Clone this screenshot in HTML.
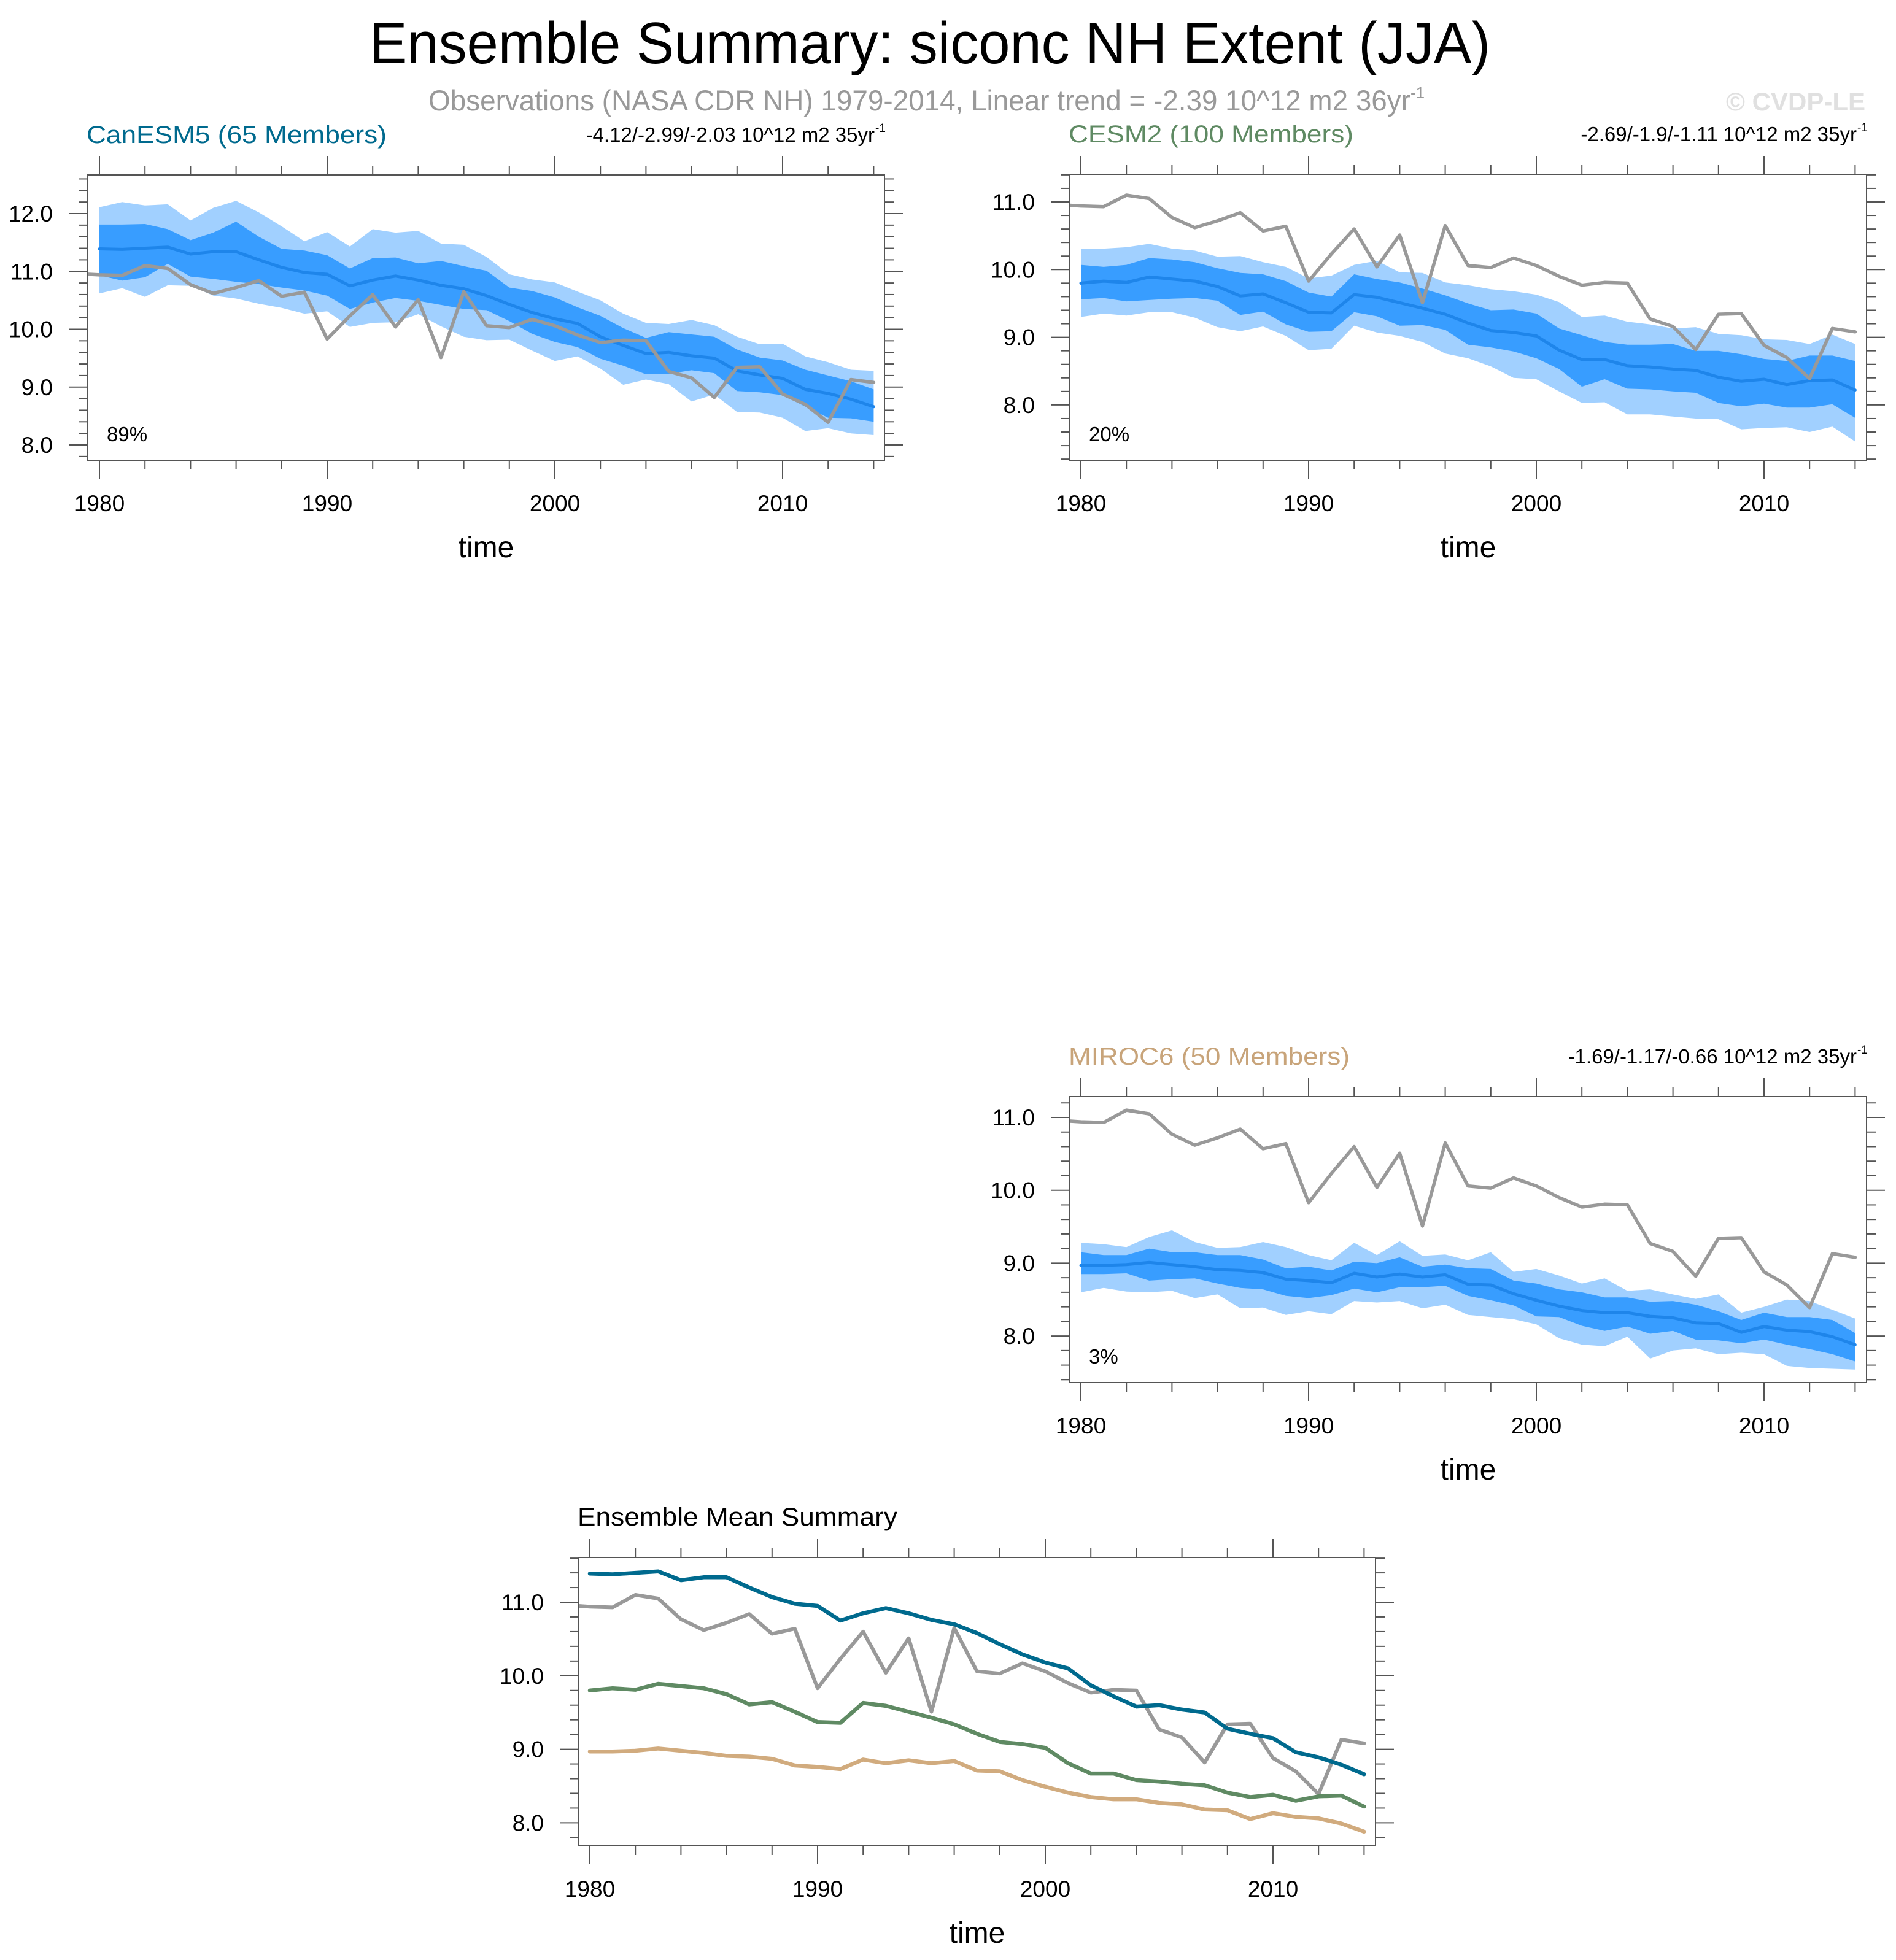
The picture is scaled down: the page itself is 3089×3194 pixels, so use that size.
<!DOCTYPE html>
<html><head><meta charset="utf-8"><title>Ensemble Summary: siconc NH Extent (JJA)</title>
<style>html,body{margin:0;padding:0;background:#fff}svg{display:block;font-family:"Liberation Sans",Arial,sans-serif}</style>
</head><body>
<svg id="fig" width="3089" height="3194" viewBox="0 0 3089 3194" xmlns="http://www.w3.org/2000/svg">
<rect x="0" y="0" width="3089" height="3194" fill="#fff"/>
<text x="602" y="103" font-size="96" textLength="1826" lengthAdjust="spacingAndGlyphs" fill="#000">Ensemble Summary: siconc NH Extent (JJA)</text>
<text x="698" y="180" font-size="47" fill="#999"><tspan textLength="1600" lengthAdjust="spacingAndGlyphs">Observations (NASA CDR NH) 1979-2014, Linear trend = -2.39 10^12 m2 36yr</tspan><tspan dy="-20" font-size="26">-1</tspan></text>
<text x="3039" y="180" text-anchor="end" font-size="42" font-weight="bold" fill="#e0e0e0">© CVDP-LE</text>
</svg>
<script>
// ---------- data ----------
const years = [1980,1981,1982,1983,1984,1985,1986,1987,1988,1989,1990,1991,1992,1993,1994,1995,1996,1997,1998,1999,2000,2001,2002,2003,2004,2005,2006,2007,2008,2009,2010,2011,2012,2013,2014];
const obsYears = [1979].concat(years);
const obsValues = [10.96,10.94,10.93,11.10,11.05,10.77,10.62,10.72,10.84,10.57,10.64,9.83,10.23,10.60,10.04,10.51,9.51,10.65,10.06,10.03,10.17,10.06,9.90,9.77,9.81,9.80,9.27,9.16,8.82,9.34,9.35,8.88,8.70,8.39,9.13,9.08];

const canMean = [11.39,11.38,11.40,11.42,11.30,11.34,11.34,11.20,11.07,10.98,10.95,10.75,10.85,10.92,10.85,10.76,10.70,10.58,10.43,10.29,10.18,10.10,9.87,9.72,9.58,9.60,9.54,9.50,9.28,9.21,9.15,8.96,8.89,8.79,8.66];
const canOuterHi = [12.11,12.20,12.14,12.16,11.88,12.10,12.22,12.02,11.78,11.52,11.68,11.43,11.73,11.67,11.70,11.48,11.46,11.25,10.95,10.86,10.81,10.65,10.50,10.27,10.11,10.09,10.16,10.07,9.87,9.74,9.75,9.53,9.43,9.30,9.28];
const canInnerHi = [11.81,11.81,11.82,11.73,11.54,11.67,11.86,11.60,11.39,11.36,11.28,11.05,11.23,11.24,11.14,11.18,11.09,11.01,10.72,10.66,10.55,10.38,10.23,10.02,9.85,9.95,9.91,9.87,9.65,9.51,9.46,9.30,9.20,9.10,8.96];
const canInnerLo = [10.93,10.84,10.90,11.13,10.91,10.87,10.82,10.78,10.72,10.67,10.58,10.35,10.46,10.54,10.49,10.42,10.35,10.33,10.14,9.92,9.78,9.69,9.49,9.37,9.22,9.23,9.29,9.24,8.93,8.91,8.86,8.66,8.47,8.46,8.40];
const canOuterLo = [10.62,10.71,10.56,10.76,10.75,10.58,10.53,10.44,10.37,10.27,10.31,10.04,10.11,10.12,10.26,10.05,9.87,9.81,9.82,9.63,9.45,9.53,9.32,9.04,9.13,9.05,8.75,8.87,8.57,8.56,8.47,8.24,8.29,8.20,8.17];

const cesmMean = [9.80,9.83,9.81,9.89,9.86,9.83,9.75,9.61,9.64,9.51,9.37,9.36,9.63,9.59,9.51,9.43,9.34,9.21,9.10,9.07,9.02,8.81,8.67,8.67,8.58,8.56,8.53,8.51,8.41,8.35,8.38,8.30,8.36,8.37,8.22];
const cesmOuterHi = [10.31,10.31,10.33,10.38,10.31,10.28,10.19,10.20,10.11,10.04,9.87,9.91,10.07,10.13,9.96,9.95,9.81,9.77,9.71,9.68,9.63,9.52,9.30,9.32,9.23,9.19,9.13,9.15,9.05,9.03,8.97,8.96,8.90,9.04,8.90];
const cesmInnerHi = [10.07,10.04,10.07,10.17,10.15,10.11,10.02,9.95,9.93,9.83,9.66,9.60,9.93,9.86,9.81,9.72,9.62,9.50,9.40,9.41,9.35,9.13,9.03,8.93,8.89,8.89,8.90,8.80,8.80,8.75,8.68,8.65,8.73,8.73,8.65];
const cesmInnerLo = [9.56,9.58,9.53,9.55,9.57,9.58,9.54,9.33,9.38,9.19,9.08,9.09,9.37,9.31,9.17,9.18,9.11,8.89,8.85,8.79,8.69,8.53,8.27,8.38,8.24,8.23,8.20,8.18,8.03,7.98,8.02,7.96,7.96,8.01,7.81];
const cesmOuterLo = [9.30,9.35,9.32,9.37,9.37,9.29,9.15,9.09,9.16,9.02,8.81,8.83,9.17,9.07,9.02,8.93,8.76,8.69,8.57,8.40,8.38,8.20,8.03,8.04,7.86,7.86,7.83,7.80,7.79,7.64,7.66,7.67,7.60,7.68,7.46];

const mirocMean = [8.97,8.97,8.98,9.01,8.98,8.95,8.91,8.90,8.87,8.78,8.76,8.73,8.86,8.81,8.85,8.81,8.84,8.71,8.70,8.58,8.49,8.41,8.35,8.32,8.32,8.27,8.25,8.18,8.17,8.05,8.13,8.08,8.06,7.99,7.88];
const mirocOuterHi = [9.28,9.26,9.22,9.36,9.45,9.29,9.21,9.22,9.29,9.22,9.11,9.04,9.28,9.11,9.30,9.10,9.12,9.04,9.15,8.88,8.92,8.83,8.72,8.79,8.62,8.64,8.57,8.51,8.57,8.32,8.40,8.50,8.48,8.36,8.24];
const mirocInnerHi = [9.15,9.11,9.11,9.20,9.15,9.15,9.11,9.11,9.05,8.93,8.95,8.90,9.02,9.00,9.08,8.95,8.98,8.93,8.92,8.76,8.72,8.64,8.60,8.53,8.53,8.47,8.48,8.43,8.34,8.22,8.32,8.26,8.26,8.22,8.04];
const mirocInnerLo = [8.85,8.85,8.86,8.76,8.78,8.79,8.72,8.66,8.64,8.55,8.52,8.56,8.65,8.60,8.67,8.67,8.69,8.55,8.49,8.42,8.27,8.26,8.14,8.07,8.13,8.03,8.07,7.95,7.94,7.90,7.95,7.88,7.82,7.75,7.65];
const mirocOuterLo = [8.60,8.66,8.61,8.60,8.62,8.52,8.57,8.38,8.39,8.29,8.34,8.30,8.48,8.46,8.48,8.38,8.43,8.29,8.26,8.23,8.16,7.97,7.88,7.86,7.99,7.69,7.80,7.83,7.75,7.77,7.75,7.59,7.56,7.55,7.54];

const xTickLabels = ["1980","1990","2000","2010"];
const yTickLabelsP1 = ["8.0","9.0","10.0","11.0","12.0"];
const yTickLabelsP23 = ["8.0","9.0","10.0","11.0"];
const yTickLabelsP4 = ["8.0","9.0","10.0","11.0"];

// ---------- drawing ----------
const NS = "http://www.w3.org/2000/svg";
const svg = document.getElementById("fig");
function mk(tag, attrs, parent){
  const e = document.createElementNS(NS, tag);
  for (const k in attrs) e.setAttribute(k, attrs[k]);
  (parent || svg).appendChild(e);
  return e;
}
let clipId = 0;

function makePanel(cfg){
  const g = mk("g", {});
  
  
  const X = yr => cfg.x1980 + (yr - 1980) * cfg.pyr;
  const Y = v => cfg.yRef + (cfg.vRef - v) * cfg.unit;
  const vTop = cfg.vRef + (cfg.yRef - cfg.y0) / cfg.unit;
  const vBot = cfg.vRef - (cfg.y1 - cfg.yRef) / cfg.unit;

  const cid = "clip" + (clipId++);
  const cp = mk("clipPath", {id: cid}, g);
  mk("rect", {x: cfg.x0, y: cfg.y0, width: cfg.x1 - cfg.x0, height: cfg.y1 - cfg.y0}, cp);
  const plot = mk("g", {"clip-path": "url(#" + cid + ")"}, g);

  function band(hi, lo, color, nm){
    let pts = [];
    for (let i = 0; i < years.length; i++) pts.push(X(years[i]).toFixed(1) + "," + Y(hi[i]).toFixed(1));
    for (let i = years.length - 1; i >= 0; i--) pts.push(X(years[i]).toFixed(1) + "," + Y(lo[i]).toFixed(1));
    const p = mk("polygon", {points: pts.join(" "), fill: color}, plot);
    
    
  }
  function line(xs, vals, color, w, nm){
    const pts = vals.map((v, i) => X(xs[i]).toFixed(1) + "," + Y(v).toFixed(1)).join(" ");
    const p = mk("polyline", {points: pts, fill: "none", stroke: color, "stroke-width": w, "stroke-linejoin": "round", "stroke-linecap": "round"}, plot);
    
    
  }
  if (cfg.bands){
    const b = cfg.bands;
    band(b.oh, b.ol, "#a1d0ff", "outer-spread-band");
    band(b.ih, b.il, "#389dff", "inner-spread-band");
    line(years, b.mean, "#1e85ea", 5, "ensemble-mean-line");
    line(obsYears, obsValues, "#999999", 5.5, "observations-line");
  }
  if (cfg.lines){
    line(obsYears, obsValues, "#999999", 6, "observations-line");
    cfg.lines.forEach(l => line(years, l.vals, l.color, 6.5, l.name));
  }

  // frame
  const fr = mk("rect", {x: cfg.x0, y: cfg.y0, width: cfg.x1 - cfg.x0, height: cfg.y1 - cfg.y0, fill: "none", stroke: "#555", "stroke-width": 2}, g);
  
  

  // x ticks
  const xt = mk("g", {stroke: "#555", "stroke-width": 2}, g);
  
  
  for (let yr = 1980; yr <= 2014; yr += 2){
    const major = (yr % 10 === 0);
    const L = major ? 30 : 15;
    const x = X(yr);
    mk("line", {x1: x, x2: x, y1: cfg.y1, y2: cfg.y1 + L}, xt);
    mk("line", {x1: x, x2: x, y1: cfg.y0, y2: cfg.y0 - L}, xt);
  }
  xTickLabels.forEach(s => {
    const t = mk("text", {x: X(+s), y: cfg.y1 + 83, "font-size": 37, "text-anchor": "middle", fill: "#000"}, g);
    t.textContent = s;
    
    
  });
  const xl = mk("text", {x: (cfg.x0 + cfg.x1) / 2, y: cfg.y1 + 158, "font-size": 48, "text-anchor": "middle", fill: "#000"}, g);
  xl.textContent = "time";
  
  

  // y ticks
  const yt = mk("g", {stroke: "#555", "stroke-width": 2}, g);
  
  
  const start = Math.ceil(vBot * 5 - 1e-6);
  const end = Math.floor(vTop * 5 + 1e-6);
  for (let k = start; k <= end; k++){
    const v = k / 5;
    const major = (k % 5 === 0);
    const L = major ? 30 : 15;
    const y = Y(v);
    mk("line", {x1: cfg.x0, x2: cfg.x0 - L, y1: y, y2: y}, yt);
    mk("line", {x1: cfg.x1, x2: cfg.x1 + L, y1: y, y2: y}, yt);
  }
  cfg.yLabels.forEach(s => {
    const t = mk("text", {x: cfg.x0 - 57, y: Y(parseFloat(s)) + 13, "font-size": 37, "text-anchor": "end", fill: "#000"}, g);
    t.textContent = s;
    
    
  });

  // titles
  const tt = mk("text", {x: cfg.x0 - 2, y: cfg.y0 - 52, "font-size": cfg.titleSize || 40, fill: cfg.titleColor, textLength: cfg.titleLen, lengthAdjust: "spacingAndGlyphs"}, g);
  tt.textContent = cfg.title;
  
  
  if (cfg.trend){
    const rt = mk("text", {x: cfg.x1 - 16, y: cfg.y0 - 54, "font-size": 33, "text-anchor": "end", fill: "#000"}, g);
    rt.textContent = cfg.trend;
    
    
    const sp = mk("text", {x: cfg.x1 - 15, y: cfg.y0 - 70, "font-size": 19, fill: "#000"}, g);
    sp.textContent = "-1";
    
    
  }
  if (cfg.pct){
    const pt = mk("text", {x: cfg.x0 + 31, y: cfg.y1 - 31, "font-size": 33, fill: "#000"}, g);
    pt.textContent = cfg.pct;
    
    
  }
}

makePanel({name: "canesm5-panel", x0: 143, x1: 1441, y0: 285, y1: 750, x1980: 162, pyr: 37.1,
  vRef: 12, yRef: 348, unit: 94.25, yLabels: yTickLabelsP1,
  title: "CanESM5 (65 Members)", titleColor: "#006a8e", titleLen: 489,
  trend: "-4.12/-2.99/-2.03 10^12 m2 35yr", pct: "89%",
  bands: {mean: canMean, oh: canOuterHi, ih: canInnerHi, il: canInnerLo, ol: canOuterLo}});
makePanel({name: "cesm2-panel", x0: 1743, x1: 3041, y0: 284, y1: 750, x1980: 1761, pyr: 37.1,
  vRef: 11, yRef: 329, unit: 110.3, yLabels: yTickLabelsP23,
  title: "CESM2 (100 Members)", titleColor: "#5f8a63", titleLen: 464,
  trend: "-2.69/-1.9/-1.11 10^12 m2 35yr", pct: "20%",
  bands: {mean: cesmMean, oh: cesmOuterHi, ih: cesmInnerHi, il: cesmInnerLo, ol: cesmOuterLo}});
makePanel({name: "miroc6-panel", x0: 1743, x1: 3041, y0: 1787, y1: 2253, x1980: 1761, pyr: 37.1,
  vRef: 11, yRef: 1821, unit: 118.7, yLabels: yTickLabelsP23,
  title: "MIROC6 (50 Members)", titleColor: "#c8a47a", titleLen: 458,
  trend: "-1.69/-1.17/-0.66 10^12 m2 35yr", pct: "3%",
  bands: {mean: mirocMean, oh: mirocOuterHi, ih: mirocInnerHi, il: mirocInnerLo, ol: mirocOuterLo}});
makePanel({name: "ensemble-mean-summary-panel", x0: 943, x1: 2241, y0: 2538, y1: 3008, x1980: 961, pyr: 37.1,
  vRef: 11, yRef: 2611, unit: 119.8, yLabels: yTickLabelsP4,
  title: "Ensemble Mean Summary", titleColor: "#000", titleLen: 521, titleSize: 42,
  lines: [
    {vals: canMean, color: "#006a8e", name: "canesm5-mean-line"},
    {vals: cesmMean, color: "#5f8a63", name: "cesm2-mean-line"},
    {vals: mirocMean, color: "#d1ab7e", name: "miroc6-mean-line"}
  ]});
</script>
</body></html>
